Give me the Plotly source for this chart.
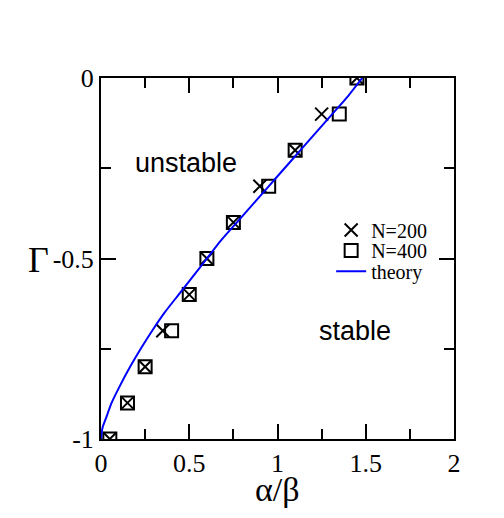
import plotly.graph_objects as go

# simulation: gamma levels and the alpha/beta where the transition is seen
gamma = [0, -0.1, -0.2, -0.3, -0.4, -0.5, -0.6, -0.7, -0.8, -0.9, -1.0]
ratio_n200 = [1.45, 1.25, 1.1, 0.9, 0.75, 0.6, 0.5, 0.35, 0.25, 0.15, 0.05]
ratio_n400 = [1.45, 1.35, 1.1, 0.95, 0.75, 0.6, 0.5, 0.4, 0.25, 0.15, 0.05]

# theory curve
theory_x = [0, 0.008, 0.03, 0.06, 0.11, 0.165, 0.225, 0.29, 0.36, 0.44, 0.52,
            0.6, 0.68, 0.77, 0.86, 0.95, 1.04, 1.13, 1.22, 1.31, 1.4, 1.48]
theory_y = [-1, -0.97, -0.94, -0.9, -0.85, -0.8, -0.75, -0.7, -0.65, -0.6, -0.55,
            -0.5, -0.45, -0.4, -0.35, -0.3, -0.25, -0.2, -0.15, -0.1, -0.05, 0]

x_ticks = [0, 0.5, 1, 1.5, 2]
x_ticktext = ["0", "0.5", "1", "1.5", "2"]
y_ticks = [-1, -0.5, 0]
y_ticktext = ["-1", "-0.5", "0"]

serif = "Liberation Serif"
sans = "Liberation Sans"

fig = go.Figure()
fig.add_trace(go.Scatter(
    x=ratio_n200, y=gamma, mode="markers", name="N=200", legend="legend",
    marker=dict(symbol="x-thin-open", size=13, color="black", line=dict(color="black", width=2)),
))
fig.add_trace(go.Scatter(
    x=ratio_n400, y=gamma, mode="markers", name="N=400", legend="legend2",
    marker=dict(symbol="square-open", size=13, color="black", line=dict(color="black", width=2)),
))
fig.add_trace(go.Scatter(
    x=theory_x, y=theory_y, mode="lines", name="theory", legend="legend3",
    line=dict(color="#0000ff", width=2, shape="spline", smoothing=0.6),
))

fig.add_annotation(x=0.48, y=-0.235, text="unstable", showarrow=False,
                   font=dict(family=sans, size=27, color="black"))
fig.add_annotation(x=1.44, y=-0.7, text="stable", showarrow=False,
                   font=dict(family=sans, size=27, color="black"))
# axis labels as annotations so they sit where the original puts them
fig.add_annotation(xref="paper", yref="paper", x=-0.178, y=0.497, text="Γ", showarrow=False,
                   xanchor="center", yanchor="middle",
                   font=dict(family=serif, size=36, color="black"))
fig.add_annotation(xref="paper", yref="paper", x=0.5, y=-0.139, text="α/β", showarrow=False,
                   xanchor="center", yanchor="middle",
                   font=dict(family=serif, size=34, color="black"))

axis_common = dict(
    showgrid=False, zeroline=False, showline=True, linecolor="black", linewidth=2,
    mirror="ticks", ticks="inside", ticklen=15, tickwidth=2, tickcolor="black",
    tickfont=dict(family=serif, size=26, color="black"),
    minor=dict(ticks="inside", ticklen=10, tickwidth=2, tickcolor="black", dtick=0.25),
)
fig.update_xaxes(range=[0, 2], tickvals=x_ticks, ticktext=x_ticktext, **axis_common)
fig.update_yaxes(range=[-1, 0], tickvals=y_ticks, ticktext=y_ticktext, **axis_common)

legend_style = dict(x=0.652, xanchor="left", yanchor="middle", itemwidth=30,
                    font=dict(family=serif, size=20, color="black"),
                    bgcolor="rgba(0,0,0,0)")
fig.update_layout(
    width=504, height=518, showlegend=True,
    margin=dict(l=93, r=58, t=70, b=87, autoexpand=False),
    plot_bgcolor="white", paper_bgcolor="white",
    legend=dict(y=0.579, **legend_style),
    legend2=dict(y=0.522, **legend_style),
    legend3=dict(y=0.465, **legend_style),
)

fig.write_html("out.html")
